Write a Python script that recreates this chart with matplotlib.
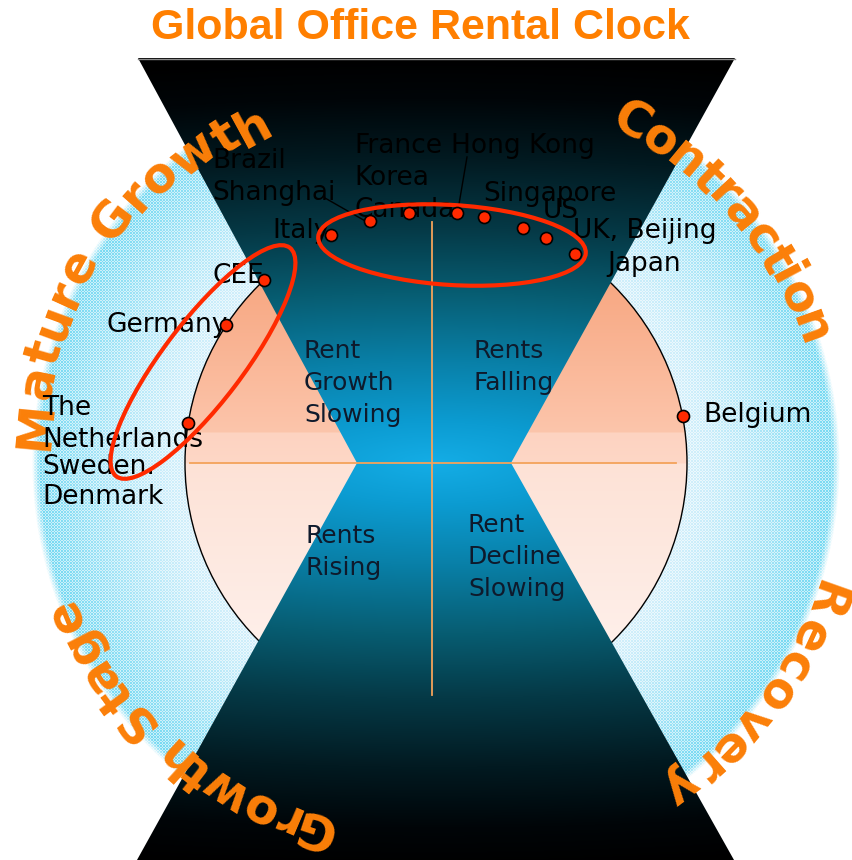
import numpy as np
import matplotlib
matplotlib.use("Agg")
import matplotlib.pyplot as plt
from matplotlib.patches import Polygon, Circle, Ellipse
from matplotlib.colors import to_rgb
from matplotlib.font_manager import FontProperties
from matplotlib.textpath import text_to_path

W, H = 852, 860
CX, CY = 436, 463        # clock centre in pixel coords (y down)
R_CLOCK = 251            # clock face radius
R_RING = 400             # outer edge of the stage ring

# markets and where they sit on the clock (degrees clockwise from 12 o'clock)
markets = ["Italy", "Brazil, Shanghai", "France, Korea, Canada", "Hong Kong",
           "Singapore", "US", "UK, Beijing", "Japan",
           "CEE", "Germany", "The Netherlands, Sweden, Denmark", "Belgium"]
clock_deg = [335.2, 344.7, 353.8, 4.8, 11.1, 20.3, 26.1, 33.5,
             316.7, 303.3, 279.1, 79.3]

# label lines beside the dots: text, left x, baseline y
label_lines = [
    ("Brazil", 212, 168), ("Shanghai", 212, 200),
    ("Italy", 272, 238),
    ("France", 354, 153), ("Korea", 354, 185), ("Canada", 354, 217),
    ("Hong Kong", 451, 153),
    ("Singapore", 483, 201),
    ("US", 543, 218),
    ("UK, Beijing", 573, 238),
    ("Japan", 607, 271),
    ("CEE", 212, 283),
    ("Germany", 107, 332),
    ("The", 42, 415), ("Netherlands", 42, 447),
    ("Sweden.", 42, 474), ("Denmark", 42, 504),
    ("Belgium", 703, 422),
]
leaders = [((325, 198), (367, 222)), ((467, 157), (458, 210))]

# the four quadrants of the clock
quadrants = [
    (["Rent", "Growth", "Slowing"], 304, 358),
    (["Rents", "Falling"], 474, 358),
    (["Rents", "Rising"], 305, 543),
    (["Rent", "Decline", "Slowing"], 468, 532),
]

# stage names around the rim: start/end angle, start/mid/end radius
stages = ["Mature Growth", "Contraction", "Recovery", "Growth Stage"]
stage_arcs = [(174.6, 118.6, 405, 409, 385),
              (60.1, 19.8, 396, 398, 401),
              (-19.5, -52.9, 414, 413, 408),
              (251.5, 202.4, 387, 396, 403)]

ORANGE = "#fb7f08"

fig = plt.figure(figsize=(W / 100, H / 100), dpi=100)
ax = fig.add_axes([0, 0, 1, 1])
ax.set_xlim(0, W)
ax.set_ylim(H, 0)
ax.axis("off")

yy, xx = np.mgrid[0:H, 0:W] + 0.5
rr = np.hypot(xx - CX, yy - CY)

# light blue meshed ring
t = np.clip((rr - R_CLOCK) / (R_RING - R_CLOCK), 0, 1)[..., None] ** 1.3
base = np.array(to_rgb("#d2effb")) * (1 - t) + np.array(to_rgb("#74d9f2")) * t
ix, iy = xx.astype(int), yy.astype(int)
mesh = ((ix + iy) % 3 == 0) | ((ix - iy) % 3 == 0)
rgb = np.where(mesh[..., None], base, 0.4 * base + 0.6)
alpha = np.clip((R_RING + 4 - rr) / 8, 0, 1)
ax.imshow(np.dstack([rgb, alpha]), extent=(0, W, H, 0), interpolation="none", zorder=1)


def vertical_gradient(stops_y, stops_c, y):
    cols = np.array([to_rgb(c) for c in stops_c])
    return np.dstack([np.interp(y, stops_y, cols[:, k]) for k in range(3)])


# peach clock face
face = vertical_gradient(
    [212, 300, 432, 433, 463, 464, 600, 714],
    ["#f59870", "#f8ab87", "#fcc5ab", "#fdd3c1", "#fdd7c6", "#fde2d6", "#feece5", "#fff5f1"],
    yy)
im = ax.imshow(face, extent=(0, W, H, 0), interpolation="none", zorder=2)
im.set_clip_path(Circle((CX, CY), R_CLOCK, transform=ax.transData))
ax.add_patch(Circle((CX, CY), R_CLOCK, fill=False, ec="black", lw=1.0, zorder=3))

# hourglass
hg = Polygon([(138, 58), (735, 58), (511, 463), (734, 860), (137, 860), (357, 463)],
             closed=True, transform=ax.transData)
d = np.clip(np.hypot((yy - CY) / 405, (xx - 434) / 1400), 0, 1)
glass = vertical_gradient(
    [0, 0.1, 0.25, 0.42, 0.58, 0.75, 0.9, 1.0],
    ["#14ade6", "#0c9cd2", "#0980a8", "#075d72", "#053946", "#021a21", "#000508", "#000000"],
    d)
im = ax.imshow(glass, extent=(0, W, H, 0), interpolation="none", zorder=4)
im.set_clip_path(hg)
ax.plot([138, 735], [58.5, 58.5], color="#8a8a8a", lw=1, zorder=4)

# axes of the clock
ax.plot([190, 676], [463, 463], color="#f4a35a", lw=1.3, zorder=5)
ax.plot([432, 432], [222, 695], color="#f4a35a", lw=1.3, zorder=5)

for lines, x, y0 in quadrants:
    for k, s in enumerate(lines):
        ax.text(x, y0 + 32 * k, s, fontsize=18, color="#0e1a2c",
                ha="left", va="baseline", zorder=6)


def arc_text(s, a0, a1, r0, rm, r1, size):
    fp = FontProperties(family="DejaVu Sans", weight="bold", size=size)
    ref = text_to_path.get_text_width_height_descent("xx", fp, ismath=False)[0]
    adv = np.array([text_to_path.get_text_width_height_descent("x" + c + "x", fp, ismath=False)[0] - ref
                    for c in s])
    mid = np.cumsum(adv) - adv / 2
    frac = (mid - mid[0]) / (mid[-1] - mid[0])
    em = size * 100 / 72
    for c, f in zip(s, frac):
        if c == " ":
            continue
        a = np.radians(a0 + (a1 - a0) * f)
        r = r0 * (1 - f) * (1 - 2 * f) + rm * 4 * f * (1 - f) + r1 * f * (2 * f - 1)
        r -= 0.36 * em
        ax.text(CX + r * np.cos(a), CY - r * np.sin(a), c, fontproperties=fp,
                color=ORANGE, rotation=np.degrees(a) - 90, rotation_mode="anchor",
                ha="center", va="baseline", zorder=7)


for name, arc in zip(stages, stage_arcs):
    arc_text(name, *arc, size=35)

for s, x, y in label_lines:
    ax.text(x, y, s, fontsize=19, color="black", ha="left", va="baseline", zorder=8)
for (x0, y0), (x1, y1) in leaders:
    ax.plot([x0, x1], [y0, y1], color="black", lw=1, zorder=8)

# grouping rings
ax.add_patch(Ellipse((452, 245), 268, 80, angle=3.5, fill=False, ec="#ff2a00", lw=3, zorder=9))
ax.add_patch(Ellipse((203, 362), 287, 80, angle=-52.8, fill=False, ec="#ff2a00", lw=3, zorder=9))

ang = np.radians(clock_deg)
dot_x = CX + R_CLOCK * np.sin(ang)
dot_y = CY - R_CLOCK * np.cos(ang)
ax.scatter(dot_x, dot_y, s=75, color="#ff2a00", edgecolor="black", linewidth=1.2, zorder=10)

ax.text(420, 28, "Global Office Rental Clock", fontsize=31, fontweight="bold",
        family="Liberation Sans", color="#ff7f00", ha="center", va="center", zorder=10)

fig.savefig("out.png", dpi=100)
